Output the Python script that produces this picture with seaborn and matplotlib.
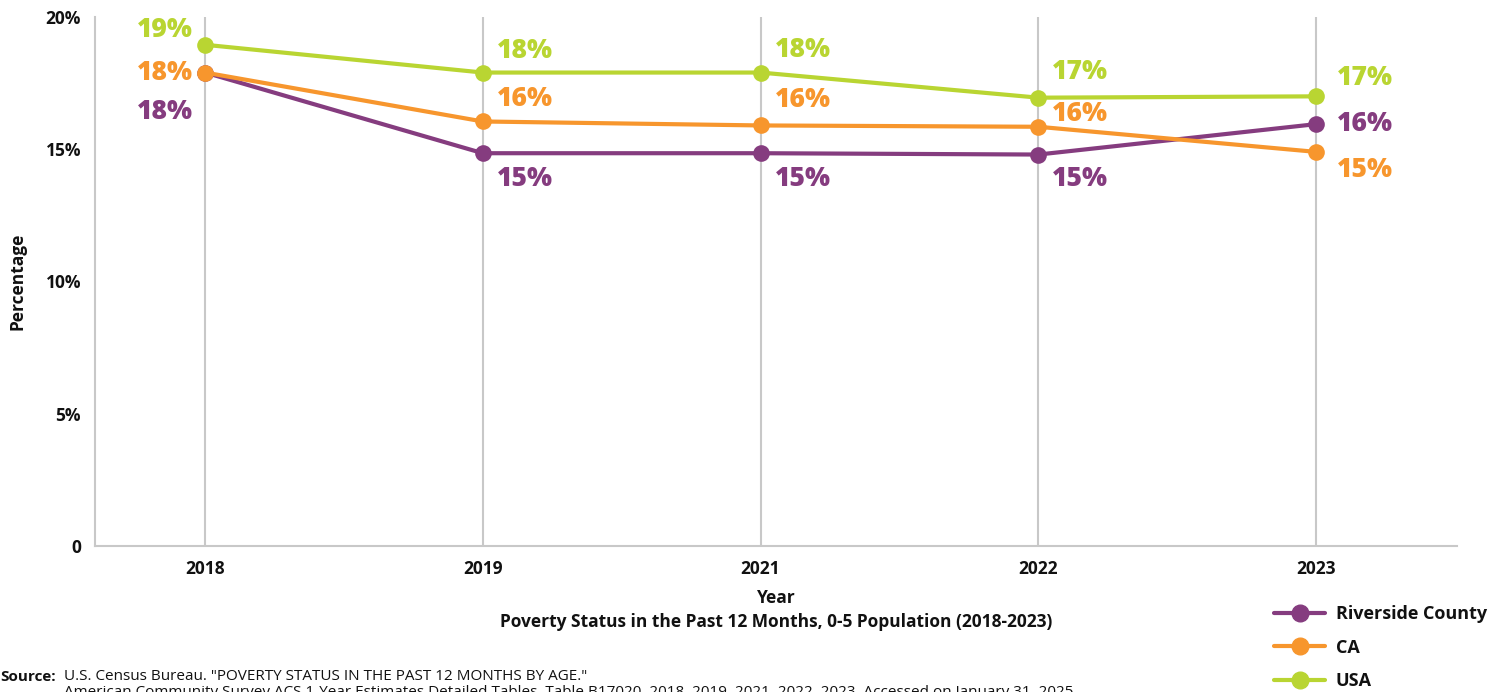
import pandas as pd
import numpy as np
import matplotlib.pyplot as plt
import seaborn as sns

years = ['2018', '2019', '2021', '2022', '2023']
riverside = [17.9, 14.85, 14.85, 14.8, 15.95]
ca = [17.9, 16.05, 15.9, 15.85, 14.9]
usa = [18.95, 17.9, 17.9, 16.95, 17.0]
regions = ['Riverside County', 'CA', 'USA']
colors = ['#853C7F', '#F7962D', '#B9D532']

df = pd.DataFrame({
    'Year': years * 3,
    'x': list(range(len(years))) * 3,
    'Percentage': riverside + ca + usa,
    'Region': [r for r in regions for _ in years],
})

sns.set_theme(style='white')
plt.rcParams['font.family'] = ['Open Sans', 'DejaVu Sans']
plt.rcParams['text.color'] = '#111111'

fig = plt.figure(figsize=(15.07, 6.92), dpi=100)
ax = fig.add_axes([95/1507, 1-546/692, (1457-95)/1507, (546-17)/692])

sns.lineplot(data=df, x='x', y='Percentage', hue='Region', palette=colors,
             marker='o', markersize=12, linewidth=3, markeredgewidth=0,
             ax=ax, legend=False)

ax.set_xlim(-0.396, 4.507)
ax.set_ylim(0, 20)
ax.set_xticks(range(len(years)))
ax.set_xticklabels(years, fontsize=12.5, fontweight='bold', color='#111111')
ax.set_yticks([0, 5, 10, 15, 20])
ax.set_yticklabels(['0', '5%', '10%', '15%', '20%'], fontsize=12.5, fontweight='bold', color='#111111')
ax.tick_params(length=0, pad=10)
for xi in range(len(years)):
    ax.axvline(xi, color='#C8C8C8', lw=1.5, zorder=0)
for s in ['top', 'right']:
    ax.spines[s].set_visible(False)
for s in ['left', 'bottom']:
    ax.spines[s].set_color('#C8C8C8')
    ax.spines[s].set_linewidth(1.5)
ax.set_xlabel('Year', fontsize=12.5, fontweight='bold', labelpad=8, color='#111111')
ax.set_ylabel('Percentage', fontsize=12.5, fontweight='bold', labelpad=14, color='#111111')

# label offsets in pixels (dx, dy) and alignment per point
offs = {
    'Riverside County': [(-12, -39, 'right'), (14, -26, 'left'), (14, -26, 'left'), (14, -24, 'left'), (21, 0, 'left')],
    'CA': [(-12, 0, 'right'), (14, 22, 'left'), (14, 25, 'left'), (14, 13, 'left'), (21, -18, 'left')],
    'USA': [(-12, 15, 'right'), (14, 22, 'left'), (14, 23, 'left'), (14, 26, 'left'), (21, 18, 'left')],
}
for r, c, vals in zip(regions, colors, [riverside, ca, usa]):
    for i, v in enumerate(vals):
        dx, dy, ha = offs[r][i]
        ax.annotate(f'{v:.0f}%', (i, v), xytext=(dx, dy), textcoords='offset pixels',
                    ha=ha, va='center', color=c, fontsize=19, fontweight=800)

fig.text((95+1457)/2/1507, 1-622/692, 'Poverty Status in the Past 12 Months, 0-5 Population (2018-2023)',
         ha='center', va='center', fontsize=12.5, fontweight='bold')

handles = [plt.Line2D([], [], color=c, lw=3, marker='o', markersize=12) for c in colors]
fig.legend(handles, regions, loc='upper left', bbox_to_anchor=(1258/1507, 1-589/692),
           frameon=False, handlelength=2.8, labelspacing=0.85, handletextpad=0.6,
           prop={'size': 13, 'weight': 'bold'})

fig.text(0.0, 1-677/692, 'Source:', fontsize=11, fontweight='bold', va='center')
fig.text(64/1507, 1-677/692, 'U.S. Census Bureau. "POVERTY STATUS IN THE PAST 12 MONTHS BY AGE."',
         fontsize=11, va='center')
fig.text(64/1507, 1-693/692,
         'American Community Survey ACS 1-Year Estimates Detailed Tables, Table B17020, 2018, 2019, 2021, 2022, 2023. Accessed on January 31, 2025.',
         fontsize=11, va='center')

fig.savefig('out.png', dpi=100)
